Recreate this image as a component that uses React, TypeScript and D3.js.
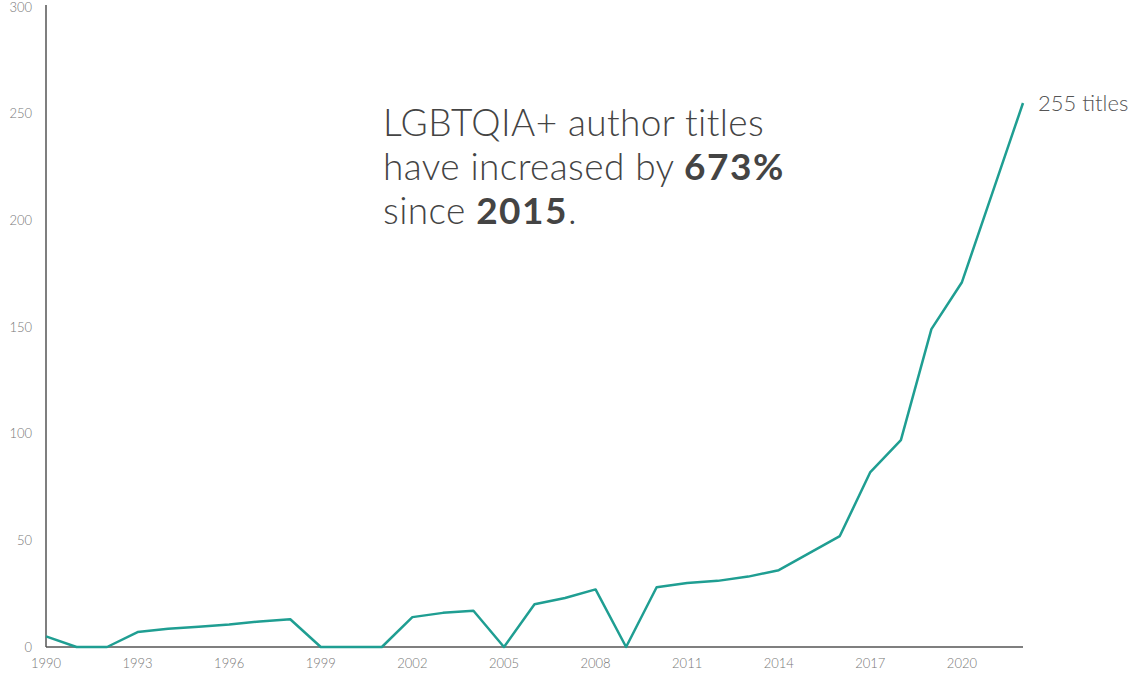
import React from 'react';
import * as d3 from 'd3';

const years = d3.range(1990, 2023);
const titles = [
  5, 0, 0, 7, 8.5, 9.5, 10.5, 12, 13, 0, 0, 0, 14, 16, 17, 0, 20, 23, 27, 0,
  28, 30, 31, 33, 36, 44, 52, 82, 97, 149, 171, 213, 255,
];
const yTicks = [0, 50, 100, 150, 200, 250, 300];
const xTicks = [1990, 1993, 1996, 1999, 2002, 2005, 2008, 2011, 2014, 2017, 2020];

const W = 1143;
const H = 673;
const font = 'Lato, "Open Sans", sans-serif';

const App = () => {
  const x = d3.scaleLinear().domain([1990, 2022]).range([46, 1023]);
  const y = d3.scaleLinear().domain([0, 300]).range([647, 7]);

  const line = d3.line<number>()
    .x((d, i) => x(years[i]))
    .y(d => y(d));

  const last = titles[titles.length - 1];

  return (
    <svg width={W} height={H} style={{ position: 'absolute', left: 0, top: 0 }}>
      <rect width={W} height={H} fill="#fff" />
      {/* axes */}
      <line x1={x(1990)} x2={x(1990)} y1={y(300) - 2} y2={y(0)} stroke="#555" strokeWidth={1.5} />
      <line x1={x(1990)} x2={x(2022)} y1={y(0)} y2={y(0)} stroke="#555" strokeWidth={1.5} />

      {yTicks.map(t => (
        <text key={t} x={32} y={y(t)} dy="0.35em" textAnchor="end"
          fontFamily={font} fontWeight={300} fontSize={13} fill="#777">{t}</text>
      ))}
      {xTicks.map(t => (
        <text key={t} x={x(t)} y={y(0) + 21} textAnchor="middle"
          fontFamily={font} fontWeight={300} fontSize={13} fill="#777">{t}</text>
      ))}

      <path d={line(titles) || ''} fill="none" stroke="#1f9e92" strokeWidth={2.5} strokeLinejoin="round" />

      <text x={x(2022) + 15} y={y(last)} dy="0.35em" fontFamily={font} fontWeight={300}
        fontSize={22} fill="#555">{last} titles</text>

      <g fontFamily={font} fontWeight={300} fontSize={37} fill="#444" letterSpacing={0.4}>
        <text x={383} y={136}>LGBTQIA+ author titles</text>
        <text x={383} y={180}>have increased by <tspan fontWeight={700} letterSpacing={1.5}>673%</tspan></text>
        <text x={383} y={224}>since <tspan fontWeight={700} letterSpacing={1.5}>2015</tspan>.</text>
      </g>
    </svg>
  );
};

export default App;
